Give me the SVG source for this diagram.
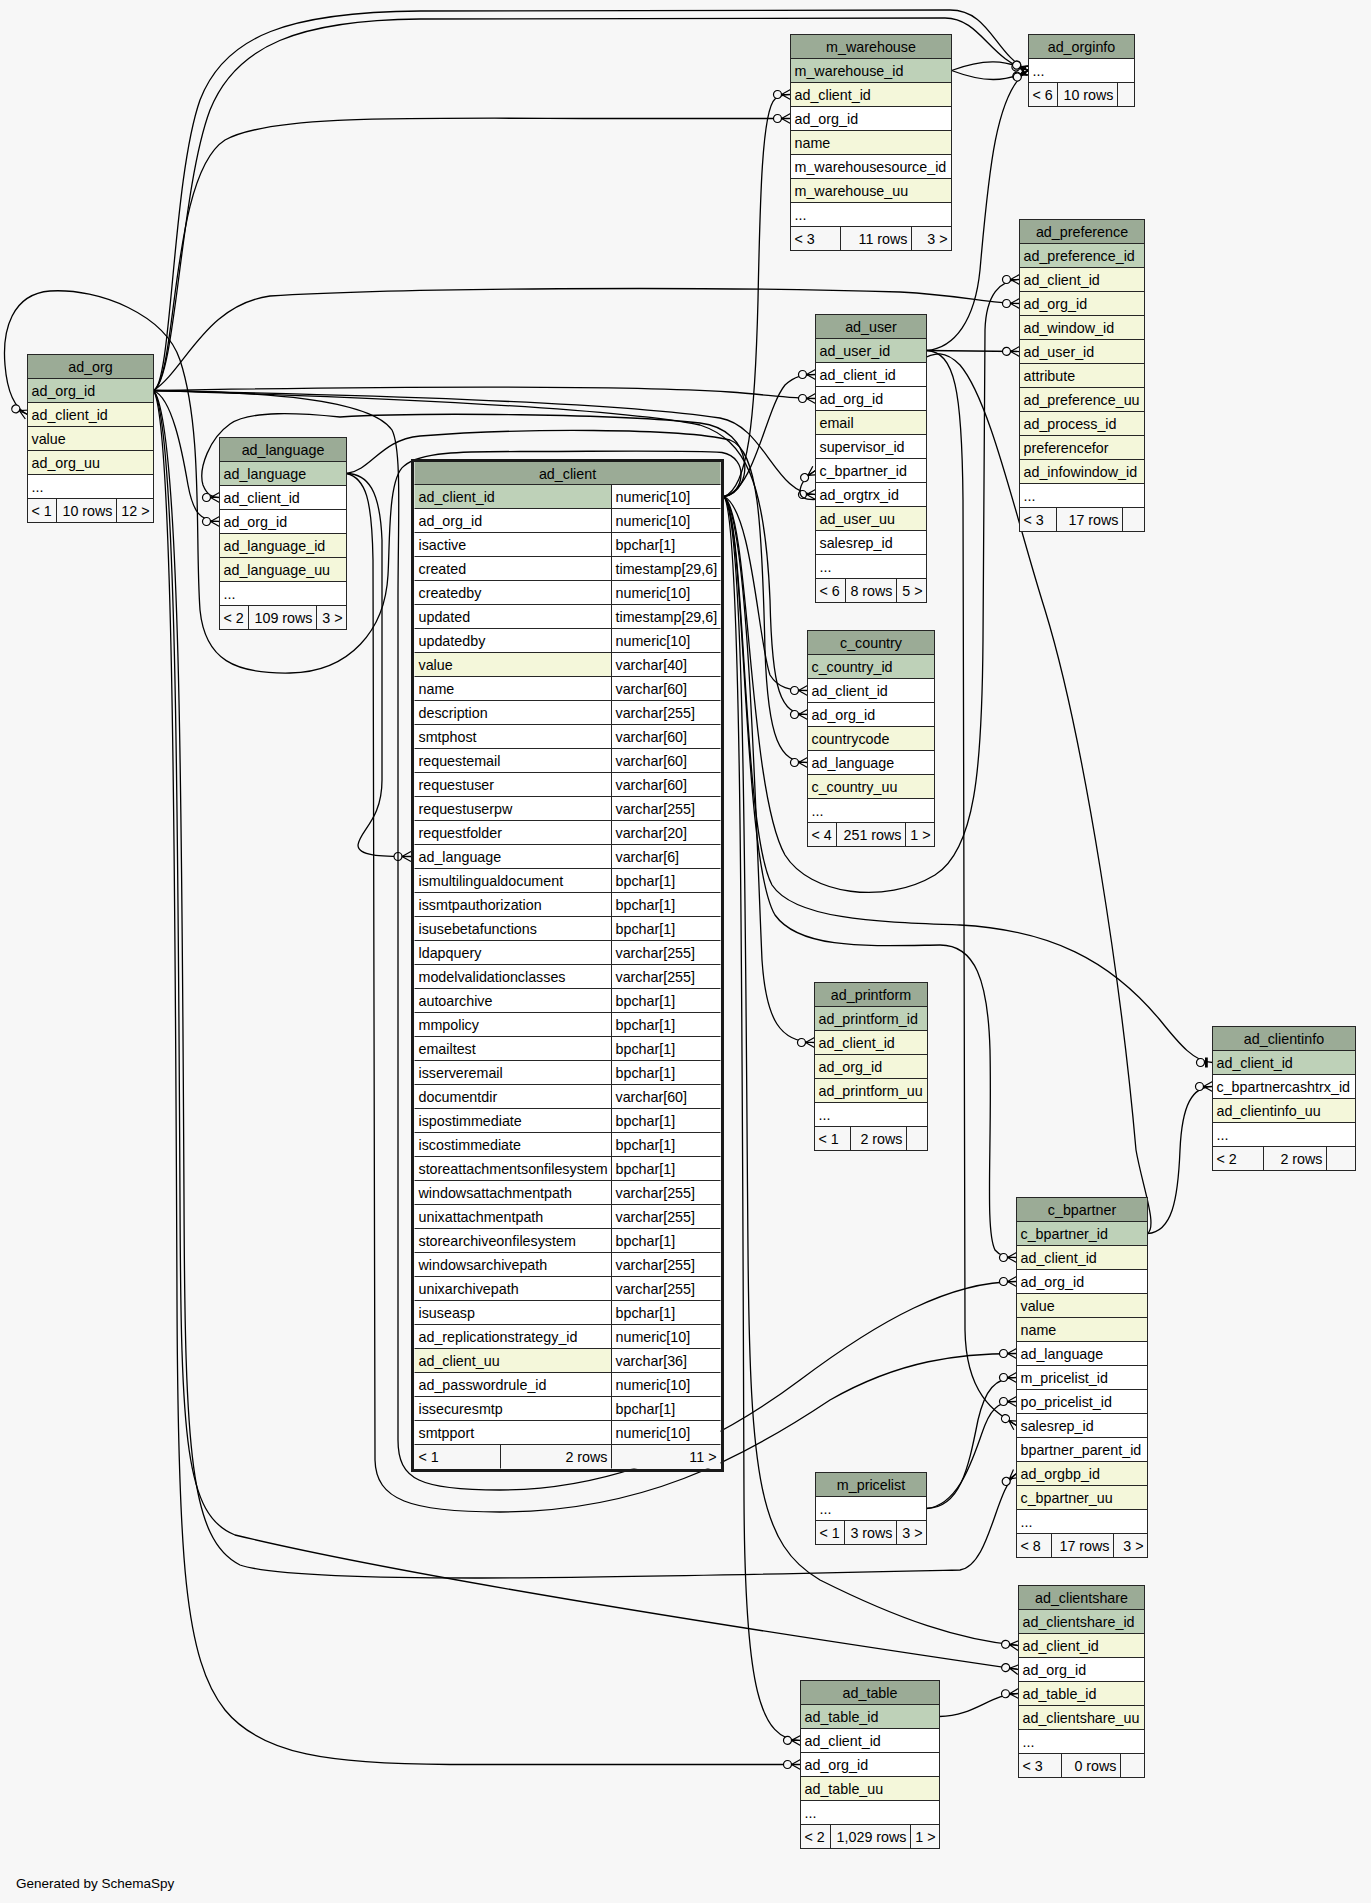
<svg xmlns="http://www.w3.org/2000/svg" width="1371" height="1903" viewBox="0 0 1371 1903">
<style>
.t{font-family:"Liberation Sans",Arial,sans-serif;font-size:14.3px;fill:#000}
.c{text-anchor:middle}
.r{text-anchor:end}
.tbl rect{stroke:#262626;stroke-width:1}
.h{fill:#9bab96}
.k{fill:#bed1b8}
.y{fill:#f4f7da}
.w{fill:#ffffff}
.f{fill:#f7f7f7}
.e{fill:none;stroke:#000;stroke-width:1.3}
.e.m{marker-end:url(#co)}
</style>
<defs>
<marker id="co" markerUnits="userSpaceOnUse" viewBox="-20 -10 22 20" refX="0" refY="0" markerWidth="22" markerHeight="20" orient="auto" overflow="visible">
<circle cx="-13" cy="0" r="4" fill="#f7f7f7" stroke="#000" stroke-width="1.2"/>
<path d="M-9,0L0,-5M-9,0L0,0M-9,0L0,5" fill="none" stroke="#000" stroke-width="1.2"/>
</marker>
<marker id="to" markerUnits="userSpaceOnUse" viewBox="-20 -10 22 20" refX="0" refY="0" markerWidth="22" markerHeight="20" orient="auto" overflow="visible">
<circle cx="-12" cy="0" r="4" fill="#f7f7f7" stroke="#000" stroke-width="1.2"/>
<rect x="-7.5" y="-5" width="2.8" height="10" fill="#000"/>
</marker>
</defs>
<rect x="0" y="0" width="1371" height="1903" fill="#f7f7f7"/>

<g id="connectors">
<path class="e m" d="M724,496.5 C744,494 750,458 722,452.5 C690,450 600,451.5 520,451.5 C460,451.5 420,452 404,466 C388,478 390,540 388,575 C385,630 350,672 290,673 C235,674 205,660 200,610 C195,540 203,430 180,360 C165,315 100,288 50,291 C12,294 2,330 5,365 C7,390 14,408 27.5,414.5"/>
<path class="e m" d="M724,496.5 C754,492 756,430 700,423 C620,414 420,412 340,417 C300,413 250,410 230,424 C210,438 198,468 203,485 C207,495 212,497.5 219.5,497.5"/>
<path class="e m" d="M153.5,390.5 C172,398 182,450 188,485 C193,512 200,521.5 219.5,521.5"/>
<path class="e m" d="M346.5,473.5 C368,474 380,490 382,540 L382,780 C382,820 360,830 358,845 C358,856 380,856.5 411,856.5"/>
<path class="e m" d="M153.5,390.5 C172,385 172,180 200,100 C225,35 290,12 420,11 L950,10 C990,10 995,55 1028.5,70.5"/>
<path class="e m" d="M153.5,390.5 C176,380 180,190 210,110 C236,45 300,20 420,19 L945,18 C980,18 990,60 1028.5,70.5"/>
<path class="e m" d="M153.5,390.5 C178,375 170,175 225,140 C270,115 400,118 600,118.5 L790.5,118.5"/>
<path class="e m" d="M724,496.5 C748,488 755,420 758,300 C760,200 762,110 775,99 C780,95 784,94.5 790.5,94.5"/>
<path class="e m" d="M951.5,70.5 C985,58 1005,60 1028.5,70.5"/>
<path class="e m" d="M951.5,70.5 C985,83 1005,82 1028.5,70.5"/>
<path class="e m" d="M926.5,350.5 C955,348 975,320 980,270 C988,180 995,90 1028.5,70.5"/>
<path class="e m" d="M153.5,390.5 C185,370 205,305 270,296 C400,288 700,286 900,292 C960,295 990,303.5 1019.5,303.5"/>
<path class="e m" d="M724,496.5 C750,515 748,790 785,855 C810,895 885,905 935,875 C975,850 982,770 983,640 L985,330 C986,295 1000,279.5 1019.5,279.5"/>
<path class="e m" d="M926.5,350.5 L1019.5,351.5"/>
<path class="e m" d="M724,496.5 C755,490 765,410 785,385 C795,376 803,374.5 815.5,374.5"/>
<path class="e m" d="M153.5,390.5 C300,388 600,384 730,392 C770,395 790,398.5 815.5,398.5"/>
<path class="e m" d="M153.5,390.5 C300,394 600,400 720,418 C765,426 775,494.5 815.5,494.5"/>
<path class="e m" d="M1147.5,1233.5 C1158,1226 1142,1185 1136,1150 C1122,990 1085,740 1045,610 C1015,515 990,400 960,365 C945,350 935,352 920,360 L840,492 C822,502 800,502 800,492 C800,484 807,476 815.5,470.5"/>
<path class="e m" d="M153.5,390.5 C300,395 600,405 700,425 C745,440 765,480 770,600 C772,690 780,714.5 807.5,714.5"/>
<path class="e m" d="M724,496.5 C752,510 758,640 770,675 C778,688 790,690.5 807.5,690.5"/>
<path class="e m" d="M346.5,473.5 C372,470 380,440 420,436 C520,428 680,428 730,440 C758,450 762,520 765,650 C768,740 780,762.5 807.5,762.5"/>
<path class="e m" d="M724,496.5 C748,520 755,800 762,960 C766,1020 780,1042.5 814.5,1042.5"/>
<path class="e" marker-end="url(#to)" d="M724,496.5 C746,520 742,830 772,885 C795,920 880,922 960,925 C1050,930 1110,960 1160,1020 C1180,1045 1195,1062.5 1212.5,1062.5"/>
<path class="e m" d="M1147.5,1233.5 C1172,1232 1178,1200 1180,1150 C1182,1105 1192,1086.5 1212.5,1086.5"/>
<path class="e m" d="M724,496.5 C746,520 742,860 775,915 C800,950 870,946 940,945 C975,945 988,980 990,1050 C992,1150 985,1230 995,1250 C1000,1256 1006,1257.5 1016.5,1257.5"/>
<path class="e m" d="M153.5,390.5 C260,392 370,398 392,430 C402,450 398,520 398,600 L398,1440 C398,1480 420,1490 500,1490 C620,1490 720,1440 800,1380 C880,1320 950,1281.5 1016.5,1281.5"/>
<path class="e m" d="M346.5,473.5 C366,478 372,500 373,560 L375,1460 C376,1500 410,1512 500,1512 C640,1512 740,1460 830,1400 C900,1360 960,1353.5 1016.5,1353.5"/>
<path class="e m" d="M926.5,1508.5 C960,1508 968,1470 978,1420 C985,1390 995,1377.5 1016.5,1377.5"/>
<path class="e m" d="M926.5,1508.5 C962,1505 975,1450 985,1425 C993,1405 1002,1401.5 1016.5,1401.5"/>
<path class="e m" d="M926.5,350.5 C955,352 962,390 963,500 L965,1330 C966,1395 995,1412 1016.5,1425.5"/>
<path class="e m" d="M153.5,390.5 C180,420 182,800 184,1200 C185,1450 190,1540 240,1565 C300,1585 600,1578 960,1570 C990,1565 995,1490 1016.5,1473.5"/>
<path class="e m" d="M724,496.5 C745,520 745,900 748,1250 C750,1480 760,1545 820,1580 C900,1620 960,1640 1018.5,1645.5"/>
<path class="e m" d="M153.5,390.5 C176,420 178,800 180,1200 C181,1440 185,1515 235,1535 C400,1575 750,1630 1018.5,1669.5"/>
<path class="e m" d="M153.5,390.5 C172,420 175,800 177,1300 C178,1560 185,1660 225,1710 C262,1755 330,1764 450,1764.5 L800.5,1764.5"/>
<path class="e m" d="M724,496.5 C742,520 742,1000 744,1500 C745,1690 760,1740 800.5,1740.5"/>
<path class="e m" d="M939.5,1716.5 C975,1716 990,1694 1018.5,1693.5"/>
</g>

<g id="ad_org" class="tbl t">
<rect class="h" x="27.5" y="354.5" width="126" height="24"/><text class="c" x="90.5" y="371.5">ad_org</text>
<rect class="k" x="27.5" y="378.5" width="126" height="24"/><text x="31.5" y="395.5">ad_org_id</text>
<rect class="y" x="27.5" y="402.5" width="126" height="24"/><text x="31.5" y="419.5">ad_client_id</text>
<rect class="y" x="27.5" y="426.5" width="126" height="24"/><text x="31.5" y="443.5">value</text>
<rect class="y" x="27.5" y="450.5" width="126" height="24"/><text x="31.5" y="467.5">ad_org_uu</text>
<rect class="w" x="27.5" y="474.5" width="126" height="24"/><text x="31.5" y="491.5">...</text>
<rect class="f" x="27.5" y="498.5" width="29" height="24"/><rect class="f" x="56.5" y="498.5" width="60" height="24"/><rect class="f" x="116.5" y="498.5" width="37" height="24"/>
<text x="31.5" y="515.5">&lt; 1</text><text class="r" x="112.5" y="515.5">10 rows</text><text class="r" x="149.5" y="515.5">12 &gt;</text>
</g>

<g id="ad_language" class="tbl t">
<rect class="h" x="219.5" y="437.5" width="127" height="24"/><text class="c" x="283" y="454.5">ad_language</text>
<rect class="k" x="219.5" y="461.5" width="127" height="24"/><text x="223.5" y="478.5">ad_language</text>
<rect class="w" x="219.5" y="485.5" width="127" height="24"/><text x="223.5" y="502.5">ad_client_id</text>
<rect class="w" x="219.5" y="509.5" width="127" height="24"/><text x="223.5" y="526.5">ad_org_id</text>
<rect class="y" x="219.5" y="533.5" width="127" height="24"/><text x="223.5" y="550.5">ad_language_id</text>
<rect class="y" x="219.5" y="557.5" width="127" height="24"/><text x="223.5" y="574.5">ad_language_uu</text>
<rect class="w" x="219.5" y="581.5" width="127" height="24"/><text x="223.5" y="598.5">...</text>
<rect class="f" x="219.5" y="605.5" width="29" height="24"/><rect class="f" x="248.5" y="605.5" width="68" height="24"/><rect class="f" x="316.5" y="605.5" width="30" height="24"/>
<text x="223.5" y="622.5">&lt; 2</text><text class="r" x="312.5" y="622.5">109 rows</text><text class="r" x="342.5" y="622.5">3 &gt;</text>
</g>

<g id="ad_client" class="t">
<rect class="h" x="414.5" y="462" width="306" height="22.5"/><text class="c" x="567.5" y="478.5">ad_client</text>
<rect class="w" x="414.5" y="484.5" width="306" height="960"/>
<rect class="k" x="414.5" y="484.5" width="197" height="24"/>
<rect class="y" x="414.5" y="652.5" width="197" height="24"/>
<rect class="y" x="414.5" y="1348.5" width="197" height="24"/>
<rect class="f" x="414.5" y="1444.5" width="306" height="24"/>
<path fill="none" stroke="#262626" stroke-width="1" d="M414.5,484.5H720.5M414.5,508.5H720.5M414.5,532.5H720.5M414.5,556.5H720.5M414.5,580.5H720.5M414.5,604.5H720.5M414.5,628.5H720.5M414.5,652.5H720.5M414.5,676.5H720.5M414.5,700.5H720.5M414.5,724.5H720.5M414.5,748.5H720.5M414.5,772.5H720.5M414.5,796.5H720.5M414.5,820.5H720.5M414.5,844.5H720.5M414.5,868.5H720.5M414.5,892.5H720.5M414.5,916.5H720.5M414.5,940.5H720.5M414.5,964.5H720.5M414.5,988.5H720.5M414.5,1012.5H720.5M414.5,1036.5H720.5M414.5,1060.5H720.5M414.5,1084.5H720.5M414.5,1108.5H720.5M414.5,1132.5H720.5M414.5,1156.5H720.5M414.5,1180.5H720.5M414.5,1204.5H720.5M414.5,1228.5H720.5M414.5,1252.5H720.5M414.5,1276.5H720.5M414.5,1300.5H720.5M414.5,1324.5H720.5M414.5,1348.5H720.5M414.5,1372.5H720.5M414.5,1396.5H720.5M414.5,1420.5H720.5M414.5,1444.5H720.5M611.5,484.5V1468.5M500.5,1444.5V1468.5"/>
<text x="418.5" y="501.5">ad_client_id</text><text x="615.5" y="501.5">numeric[10]</text>
<text x="418.5" y="525.5">ad_org_id</text><text x="615.5" y="525.5">numeric[10]</text>
<text x="418.5" y="549.5">isactive</text><text x="615.5" y="549.5">bpchar[1]</text>
<text x="418.5" y="573.5">created</text><text x="615.5" y="573.5">timestamp[29,6]</text>
<text x="418.5" y="597.5">createdby</text><text x="615.5" y="597.5">numeric[10]</text>
<text x="418.5" y="621.5">updated</text><text x="615.5" y="621.5">timestamp[29,6]</text>
<text x="418.5" y="645.5">updatedby</text><text x="615.5" y="645.5">numeric[10]</text>
<text x="418.5" y="669.5">value</text><text x="615.5" y="669.5">varchar[40]</text>
<text x="418.5" y="693.5">name</text><text x="615.5" y="693.5">varchar[60]</text>
<text x="418.5" y="717.5">description</text><text x="615.5" y="717.5">varchar[255]</text>
<text x="418.5" y="741.5">smtphost</text><text x="615.5" y="741.5">varchar[60]</text>
<text x="418.5" y="765.5">requestemail</text><text x="615.5" y="765.5">varchar[60]</text>
<text x="418.5" y="789.5">requestuser</text><text x="615.5" y="789.5">varchar[60]</text>
<text x="418.5" y="813.5">requestuserpw</text><text x="615.5" y="813.5">varchar[255]</text>
<text x="418.5" y="837.5">requestfolder</text><text x="615.5" y="837.5">varchar[20]</text>
<text x="418.5" y="861.5">ad_language</text><text x="615.5" y="861.5">varchar[6]</text>
<text x="418.5" y="885.5">ismultilingualdocument</text><text x="615.5" y="885.5">bpchar[1]</text>
<text x="418.5" y="909.5">issmtpauthorization</text><text x="615.5" y="909.5">bpchar[1]</text>
<text x="418.5" y="933.5">isusebetafunctions</text><text x="615.5" y="933.5">bpchar[1]</text>
<text x="418.5" y="957.5">ldapquery</text><text x="615.5" y="957.5">varchar[255]</text>
<text x="418.5" y="981.5">modelvalidationclasses</text><text x="615.5" y="981.5">varchar[255]</text>
<text x="418.5" y="1005.5">autoarchive</text><text x="615.5" y="1005.5">bpchar[1]</text>
<text x="418.5" y="1029.5">mmpolicy</text><text x="615.5" y="1029.5">bpchar[1]</text>
<text x="418.5" y="1053.5">emailtest</text><text x="615.5" y="1053.5">bpchar[1]</text>
<text x="418.5" y="1077.5">isserveremail</text><text x="615.5" y="1077.5">bpchar[1]</text>
<text x="418.5" y="1101.5">documentdir</text><text x="615.5" y="1101.5">varchar[60]</text>
<text x="418.5" y="1125.5">ispostimmediate</text><text x="615.5" y="1125.5">bpchar[1]</text>
<text x="418.5" y="1149.5">iscostimmediate</text><text x="615.5" y="1149.5">bpchar[1]</text>
<text x="418.5" y="1173.5">storeattachmentsonfilesystem</text><text x="615.5" y="1173.5">bpchar[1]</text>
<text x="418.5" y="1197.5">windowsattachmentpath</text><text x="615.5" y="1197.5">varchar[255]</text>
<text x="418.5" y="1221.5">unixattachmentpath</text><text x="615.5" y="1221.5">varchar[255]</text>
<text x="418.5" y="1245.5">storearchiveonfilesystem</text><text x="615.5" y="1245.5">bpchar[1]</text>
<text x="418.5" y="1269.5">windowsarchivepath</text><text x="615.5" y="1269.5">varchar[255]</text>
<text x="418.5" y="1293.5">unixarchivepath</text><text x="615.5" y="1293.5">varchar[255]</text>
<text x="418.5" y="1317.5">isuseasp</text><text x="615.5" y="1317.5">bpchar[1]</text>
<text x="418.5" y="1341.5">ad_replicationstrategy_id</text><text x="615.5" y="1341.5">numeric[10]</text>
<text x="418.5" y="1365.5">ad_client_uu</text><text x="615.5" y="1365.5">varchar[36]</text>
<text x="418.5" y="1389.5">ad_passwordrule_id</text><text x="615.5" y="1389.5">numeric[10]</text>
<text x="418.5" y="1413.5">issecuresmtp</text><text x="615.5" y="1413.5">bpchar[1]</text>
<text x="418.5" y="1437.5">smtpport</text><text x="615.5" y="1437.5">numeric[10]</text>
<text x="418.5" y="1461.5">&lt; 1</text><text class="r" x="607.5" y="1461.5">2 rows</text><text class="r" x="716.5" y="1461.5">11 &gt;</text>
<rect x="412.5" y="460.5" width="310" height="1010" fill="none" stroke="#1a1a1a" stroke-width="3"/>
</g>

<g id="m_warehouse" class="tbl t">
<rect class="h" x="790.5" y="34.5" width="161" height="24"/><text class="c" x="871" y="51.5">m_warehouse</text>
<rect class="k" x="790.5" y="58.5" width="161" height="24"/><text x="794.5" y="75.5">m_warehouse_id</text>
<rect class="y" x="790.5" y="82.5" width="161" height="24"/><text x="794.5" y="99.5">ad_client_id</text>
<rect class="w" x="790.5" y="106.5" width="161" height="24"/><text x="794.5" y="123.5">ad_org_id</text>
<rect class="y" x="790.5" y="130.5" width="161" height="24"/><text x="794.5" y="147.5">name</text>
<rect class="w" x="790.5" y="154.5" width="161" height="24"/><text x="794.5" y="171.5">m_warehousesource_id</text>
<rect class="y" x="790.5" y="178.5" width="161" height="24"/><text x="794.5" y="195.5">m_warehouse_uu</text>
<rect class="w" x="790.5" y="202.5" width="161" height="24"/><text x="794.5" y="219.5">...</text>
<rect class="f" x="790.5" y="226.5" width="50" height="24"/><rect class="f" x="840.5" y="226.5" width="71" height="24"/><rect class="f" x="911.5" y="226.5" width="40" height="24"/>
<text x="794.5" y="243.5">&lt; 3</text><text class="r" x="907.5" y="243.5">11 rows</text><text class="r" x="947.5" y="243.5">3 &gt;</text>
</g>

<g id="ad_orginfo" class="tbl t">
<rect class="h" x="1028.5" y="34.5" width="106" height="24"/><text class="c" x="1081.5" y="51.5">ad_orginfo</text>
<rect class="w" x="1028.5" y="58.5" width="106" height="24"/><text x="1032.5" y="75.5">...</text>
<rect class="f" x="1028.5" y="82.5" width="29" height="24"/><rect class="f" x="1057.5" y="82.5" width="60" height="24"/><rect class="f" x="1117.5" y="82.5" width="17" height="24"/>
<text x="1032.5" y="99.5">&lt; 6</text><text class="r" x="1113.5" y="99.5">10 rows</text>
</g>

<g id="ad_preference" class="tbl t">
<rect class="h" x="1019.5" y="219.5" width="125" height="24"/><text class="c" x="1082" y="236.5">ad_preference</text>
<rect class="k" x="1019.5" y="243.5" width="125" height="24"/><text x="1023.5" y="260.5">ad_preference_id</text>
<rect class="y" x="1019.5" y="267.5" width="125" height="24"/><text x="1023.5" y="284.5">ad_client_id</text>
<rect class="y" x="1019.5" y="291.5" width="125" height="24"/><text x="1023.5" y="308.5">ad_org_id</text>
<rect class="y" x="1019.5" y="315.5" width="125" height="24"/><text x="1023.5" y="332.5">ad_window_id</text>
<rect class="y" x="1019.5" y="339.5" width="125" height="24"/><text x="1023.5" y="356.5">ad_user_id</text>
<rect class="y" x="1019.5" y="363.5" width="125" height="24"/><text x="1023.5" y="380.5">attribute</text>
<rect class="y" x="1019.5" y="387.5" width="125" height="24"/><text x="1023.5" y="404.5">ad_preference_uu</text>
<rect class="y" x="1019.5" y="411.5" width="125" height="24"/><text x="1023.5" y="428.5">ad_process_id</text>
<rect class="y" x="1019.5" y="435.5" width="125" height="24"/><text x="1023.5" y="452.5">preferencefor</text>
<rect class="y" x="1019.5" y="459.5" width="125" height="24"/><text x="1023.5" y="476.5">ad_infowindow_id</text>
<rect class="w" x="1019.5" y="483.5" width="125" height="24"/><text x="1023.5" y="500.5">...</text>
<rect class="f" x="1019.5" y="507.5" width="37" height="24"/><rect class="f" x="1056.5" y="507.5" width="66" height="24"/><rect class="f" x="1122.5" y="507.5" width="22" height="24"/>
<text x="1023.5" y="524.5">&lt; 3</text><text class="r" x="1118.5" y="524.5">17 rows</text>
</g>

<g id="ad_user" class="tbl t">
<rect class="h" x="815.5" y="314.5" width="111" height="24"/><text class="c" x="871" y="331.5">ad_user</text>
<rect class="k" x="815.5" y="338.5" width="111" height="24"/><text x="819.5" y="355.5">ad_user_id</text>
<rect class="w" x="815.5" y="362.5" width="111" height="24"/><text x="819.5" y="379.5">ad_client_id</text>
<rect class="w" x="815.5" y="386.5" width="111" height="24"/><text x="819.5" y="403.5">ad_org_id</text>
<rect class="y" x="815.5" y="410.5" width="111" height="24"/><text x="819.5" y="427.5">email</text>
<rect class="w" x="815.5" y="434.5" width="111" height="24"/><text x="819.5" y="451.5">supervisor_id</text>
<rect class="w" x="815.5" y="458.5" width="111" height="24"/><text x="819.5" y="475.5">c_bpartner_id</text>
<rect class="w" x="815.5" y="482.5" width="111" height="24"/><text x="819.5" y="499.5">ad_orgtrx_id</text>
<rect class="y" x="815.5" y="506.5" width="111" height="24"/><text x="819.5" y="523.5">ad_user_uu</text>
<rect class="w" x="815.5" y="530.5" width="111" height="24"/><text x="819.5" y="547.5">salesrep_id</text>
<rect class="w" x="815.5" y="554.5" width="111" height="24"/><text x="819.5" y="571.5">...</text>
<rect class="f" x="815.5" y="578.5" width="30" height="24"/><rect class="f" x="845.5" y="578.5" width="51" height="24"/><rect class="f" x="896.5" y="578.5" width="30" height="24"/>
<text x="819.5" y="595.5">&lt; 6</text><text class="r" x="892.5" y="595.5">8 rows</text><text class="r" x="922.5" y="595.5">5 &gt;</text>
</g>

<g id="c_country" class="tbl t">
<rect class="h" x="807.5" y="630.5" width="127" height="24"/><text class="c" x="871" y="647.5">c_country</text>
<rect class="k" x="807.5" y="654.5" width="127" height="24"/><text x="811.5" y="671.5">c_country_id</text>
<rect class="w" x="807.5" y="678.5" width="127" height="24"/><text x="811.5" y="695.5">ad_client_id</text>
<rect class="w" x="807.5" y="702.5" width="127" height="24"/><text x="811.5" y="719.5">ad_org_id</text>
<rect class="y" x="807.5" y="726.5" width="127" height="24"/><text x="811.5" y="743.5">countrycode</text>
<rect class="w" x="807.5" y="750.5" width="127" height="24"/><text x="811.5" y="767.5">ad_language</text>
<rect class="y" x="807.5" y="774.5" width="127" height="24"/><text x="811.5" y="791.5">c_country_uu</text>
<rect class="w" x="807.5" y="798.5" width="127" height="24"/><text x="811.5" y="815.5">...</text>
<rect class="f" x="807.5" y="822.5" width="29" height="24"/><rect class="f" x="836.5" y="822.5" width="69" height="24"/><rect class="f" x="905.5" y="822.5" width="29" height="24"/>
<text x="811.5" y="839.5">&lt; 4</text><text class="r" x="901.5" y="839.5">251 rows</text><text class="r" x="930.5" y="839.5">1 &gt;</text>
</g>

<g id="ad_printform" class="tbl t">
<rect class="h" x="814.5" y="982.5" width="113" height="24"/><text class="c" x="871" y="999.5">ad_printform</text>
<rect class="k" x="814.5" y="1006.5" width="113" height="24"/><text x="818.5" y="1023.5">ad_printform_id</text>
<rect class="y" x="814.5" y="1030.5" width="113" height="24"/><text x="818.5" y="1047.5">ad_client_id</text>
<rect class="y" x="814.5" y="1054.5" width="113" height="24"/><text x="818.5" y="1071.5">ad_org_id</text>
<rect class="y" x="814.5" y="1078.5" width="113" height="24"/><text x="818.5" y="1095.5">ad_printform_uu</text>
<rect class="w" x="814.5" y="1102.5" width="113" height="24"/><text x="818.5" y="1119.5">...</text>
<rect class="f" x="814.5" y="1126.5" width="36" height="24"/><rect class="f" x="850.5" y="1126.5" width="56" height="24"/><rect class="f" x="906.5" y="1126.5" width="21" height="24"/>
<text x="818.5" y="1143.5">&lt; 1</text><text class="r" x="902.5" y="1143.5">2 rows</text>
</g>

<g id="ad_clientinfo" class="tbl t">
<rect class="h" x="1212.5" y="1026.5" width="143" height="24"/><text class="c" x="1284" y="1043.5">ad_clientinfo</text>
<rect class="k" x="1212.5" y="1050.5" width="143" height="24"/><text x="1216.5" y="1067.5">ad_client_id</text>
<rect class="w" x="1212.5" y="1074.5" width="143" height="24"/><text x="1216.5" y="1091.5">c_bpartnercashtrx_id</text>
<rect class="y" x="1212.5" y="1098.5" width="143" height="24"/><text x="1216.5" y="1115.5">ad_clientinfo_uu</text>
<rect class="w" x="1212.5" y="1122.5" width="143" height="24"/><text x="1216.5" y="1139.5">...</text>
<rect class="f" x="1212.5" y="1146.5" width="51" height="24"/><rect class="f" x="1263.5" y="1146.5" width="63" height="24"/><rect class="f" x="1326.5" y="1146.5" width="29" height="24"/>
<text x="1216.5" y="1163.5">&lt; 2</text><text class="r" x="1322.5" y="1163.5">2 rows</text>
</g>

<g id="c_bpartner" class="tbl t">
<rect class="h" x="1016.5" y="1197.5" width="131" height="24"/><text class="c" x="1082" y="1214.5">c_bpartner</text>
<rect class="k" x="1016.5" y="1221.5" width="131" height="24"/><text x="1020.5" y="1238.5">c_bpartner_id</text>
<rect class="y" x="1016.5" y="1245.5" width="131" height="24"/><text x="1020.5" y="1262.5">ad_client_id</text>
<rect class="w" x="1016.5" y="1269.5" width="131" height="24"/><text x="1020.5" y="1286.5">ad_org_id</text>
<rect class="y" x="1016.5" y="1293.5" width="131" height="24"/><text x="1020.5" y="1310.5">value</text>
<rect class="y" x="1016.5" y="1317.5" width="131" height="24"/><text x="1020.5" y="1334.5">name</text>
<rect class="w" x="1016.5" y="1341.5" width="131" height="24"/><text x="1020.5" y="1358.5">ad_language</text>
<rect class="w" x="1016.5" y="1365.5" width="131" height="24"/><text x="1020.5" y="1382.5">m_pricelist_id</text>
<rect class="w" x="1016.5" y="1389.5" width="131" height="24"/><text x="1020.5" y="1406.5">po_pricelist_id</text>
<rect class="w" x="1016.5" y="1413.5" width="131" height="24"/><text x="1020.5" y="1430.5">salesrep_id</text>
<rect class="w" x="1016.5" y="1437.5" width="131" height="24"/><text x="1020.5" y="1454.5">bpartner_parent_id</text>
<rect class="y" x="1016.5" y="1461.5" width="131" height="24"/><text x="1020.5" y="1478.5">ad_orgbp_id</text>
<rect class="y" x="1016.5" y="1485.5" width="131" height="24"/><text x="1020.5" y="1502.5">c_bpartner_uu</text>
<rect class="w" x="1016.5" y="1509.5" width="131" height="24"/><text x="1020.5" y="1526.5">...</text>
<rect class="f" x="1016.5" y="1533.5" width="35" height="24"/><rect class="f" x="1051.5" y="1533.5" width="62" height="24"/><rect class="f" x="1113.5" y="1533.5" width="34" height="24"/>
<text x="1020.5" y="1550.5">&lt; 8</text><text class="r" x="1109.5" y="1550.5">17 rows</text><text class="r" x="1143.5" y="1550.5">3 &gt;</text>
</g>

<g id="m_pricelist" class="tbl t">
<rect class="h" x="815.5" y="1472.5" width="111" height="24"/><text class="c" x="871" y="1489.5">m_pricelist</text>
<rect class="w" x="815.5" y="1496.5" width="111" height="24"/><text x="819.5" y="1513.5">...</text>
<rect class="f" x="815.5" y="1520.5" width="29" height="24"/><rect class="f" x="844.5" y="1520.5" width="52" height="24"/><rect class="f" x="896.5" y="1520.5" width="30" height="24"/>
<text x="819.5" y="1537.5">&lt; 1</text><text class="r" x="892.5" y="1537.5">3 rows</text><text class="r" x="922.5" y="1537.5">3 &gt;</text>
</g>

<g id="ad_clientshare" class="tbl t">
<rect class="h" x="1018.5" y="1585.5" width="126" height="24"/><text class="c" x="1081.5" y="1602.5">ad_clientshare</text>
<rect class="k" x="1018.5" y="1609.5" width="126" height="24"/><text x="1022.5" y="1626.5">ad_clientshare_id</text>
<rect class="y" x="1018.5" y="1633.5" width="126" height="24"/><text x="1022.5" y="1650.5">ad_client_id</text>
<rect class="w" x="1018.5" y="1657.5" width="126" height="24"/><text x="1022.5" y="1674.5">ad_org_id</text>
<rect class="y" x="1018.5" y="1681.5" width="126" height="24"/><text x="1022.5" y="1698.5">ad_table_id</text>
<rect class="y" x="1018.5" y="1705.5" width="126" height="24"/><text x="1022.5" y="1722.5">ad_clientshare_uu</text>
<rect class="w" x="1018.5" y="1729.5" width="126" height="24"/><text x="1022.5" y="1746.5">...</text>
<rect class="f" x="1018.5" y="1753.5" width="43" height="24"/><rect class="f" x="1061.5" y="1753.5" width="59" height="24"/><rect class="f" x="1120.5" y="1753.5" width="24" height="24"/>
<text x="1022.5" y="1770.5">&lt; 3</text><text class="r" x="1116.5" y="1770.5">0 rows</text>
</g>

<g id="ad_table" class="tbl t">
<rect class="h" x="800.5" y="1680.5" width="139" height="24"/><text class="c" x="870" y="1697.5">ad_table</text>
<rect class="k" x="800.5" y="1704.5" width="139" height="24"/><text x="804.5" y="1721.5">ad_table_id</text>
<rect class="w" x="800.5" y="1728.5" width="139" height="24"/><text x="804.5" y="1745.5">ad_client_id</text>
<rect class="w" x="800.5" y="1752.5" width="139" height="24"/><text x="804.5" y="1769.5">ad_org_id</text>
<rect class="y" x="800.5" y="1776.5" width="139" height="24"/><text x="804.5" y="1793.5">ad_table_uu</text>
<rect class="w" x="800.5" y="1800.5" width="139" height="24"/><text x="804.5" y="1817.5">...</text>
<rect class="f" x="800.5" y="1824.5" width="30" height="24"/><rect class="f" x="830.5" y="1824.5" width="80" height="24"/><rect class="f" x="910.5" y="1824.5" width="29" height="24"/>
<text x="804.5" y="1841.5">&lt; 2</text><text class="r" x="906.5" y="1841.5">1,029 rows</text><text class="r" x="935.5" y="1841.5">1 &gt;</text>
</g>

<text class="t" x="16" y="1888" style="font-size:13.5px">Generated by SchemaSpy</text>
</svg>
